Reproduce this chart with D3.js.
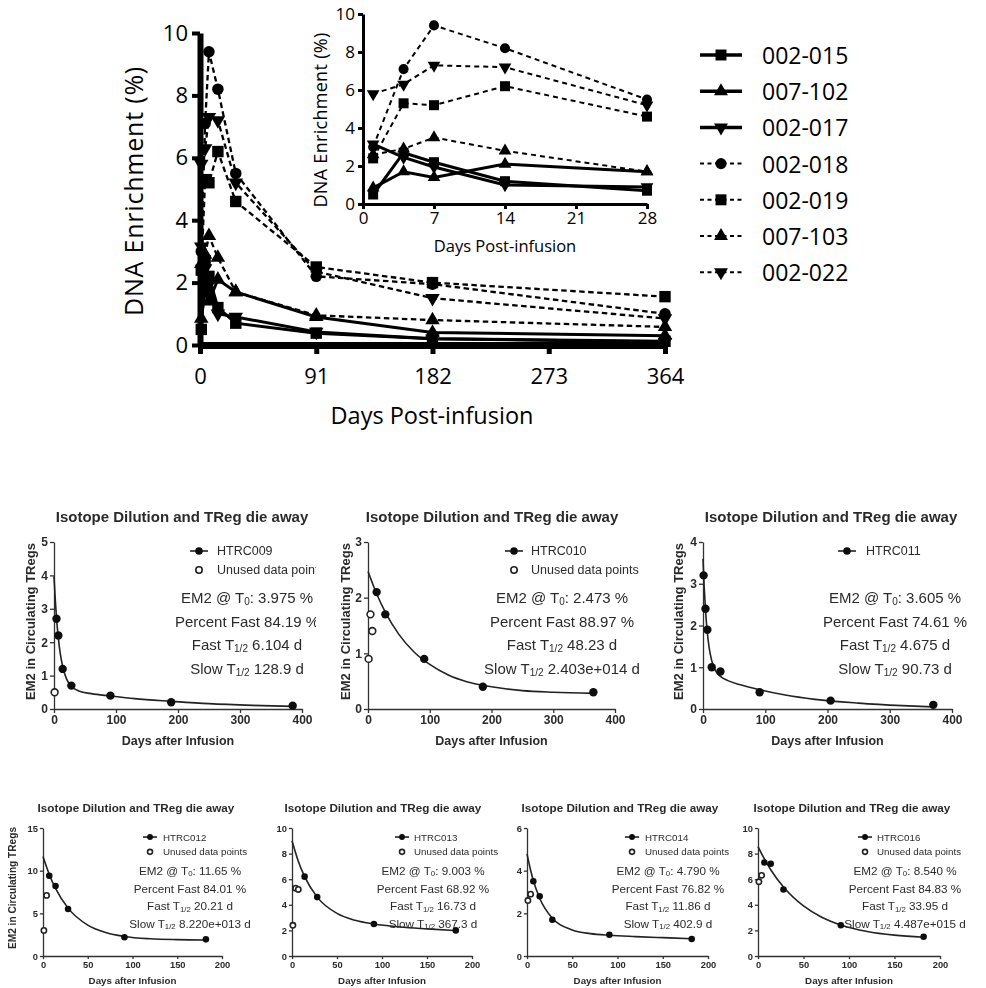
<!DOCTYPE html>
<html>
<head>
<meta charset="utf-8">
<script src="https://cdn.jsdelivr.net/npm/d3@7"></script>
<style>
  body { margin: 0; background: #fff; }
  svg { display: block; }
  .main text { font-family: "Open Sans", sans-serif; fill: #000; }
  .gp text { font-family: "Liberation Sans", Arial, sans-serif; fill: #2b2b2b; }
</style>
</head>
<body>
<div id="chart"></div>
<script>
// 1: DATA
const days = [1, 4, 7, 14, 28, 91, 182, 364];
const seriesNames = ["002-015", "007-102", "002-017", "002-018", "002-019", "007-103", "002-022"];
const v002015 = [0.5, 2.7, 2.2, 1.2, 0.7, 0.38, 0.2, 0.12];
const v007102 = [0.85, 1.7, 1.4, 2.1, 1.7, 0.9, 0.4, 0.3];
const v002017 = [3.15, 2.45, 1.95, 1.0, 0.9, 0.42, 0.2, 0.1];
const v002018 = [3.0, 7.1, 9.4, 8.2, 5.5, 2.2, 1.95, 1.0];
const v002019 = [2.4, 5.3, 5.2, 6.2, 4.6, 2.5, 2.0, 1.55];
const v007103 = [2.6, 2.9, 3.5, 2.8, 1.7, 0.95, 0.8, 0.58];
const v002022 = [5.8, 6.3, 7.3, 7.2, 5.2, 2.35, 1.5, 0.85];
const seriesValues = [v002015, v007102, v002017, v002018, v002019, v007103, v002022];
const mainXTicks = [0, 91, 182, 273, 364];
const mainYTicks = [0, 2, 4, 6, 8, 10];
const insetXTicks = [0, 7, 14, 21, 28];
const insetYTicks = [0, 2, 4, 6, 8, 10];

// fit panels: [day, value]
const fitNames = ["HTRC009", "HTRC010", "HTRC011", "HTRC012", "HTRC013", "HTRC014", "HTRC016"];
const em2T0 = ["3.975", "2.473", "3.605", "11.65", "9.003", "4.790", "8.540"];
const pctFast = ["84.19", "88.97", "74.61", "84.01", "68.92", "76.82", "84.83"];
const fastHalf = ["6.104", "48.23", "4.675", "20.21", "16.73", "11.86", "33.95"];
const slowHalf = ["128.9", "2.403e+014", "90.73", "8.220e+013", "367.3", "402.9", "4.487e+015"];
const fitYMax = [5, 3, 4, 15, 10, 6, 10];
const fitYStep = [1, 1, 1, 5, 2, 2, 2];
const fitXMax = [400, 400, 400, 200, 200, 200, 200];
const fitXStep = [100, 100, 100, 50, 50, 50, 50];

const htrc009Used = [[4, 2.7], [7, 2.2], [14, 1.2], [28, 0.7], [91, 0.4], [189, 0.2], [385, 0.1]];
const htrc009Unused = [[1, 0.5]];
const htrc009Fit = [[0, 3.97], [2, 3.29], [4, 2.74], [7, 2.12], [10, 1.67], [14, 1.27], [20, 0.91], [28, 0.68], [40, 0.54], [60, 0.46], [91, 0.39], [130, 0.31], [190, 0.23], [250, 0.16], [320, 0.11], [385, 0.08]];

const htrc010Used = [[14, 2.1], [28, 1.7], [91, 0.9], [186, 0.4], [365, 0.3]];
const htrc010Unused = [[1, 0.9], [4, 1.7], [7, 1.4]];
const htrc010Fit = [[0, 2.47], [14, 2.07], [28, 1.74], [50, 1.34], [75, 1.02], [100, 0.8], [130, 0.61], [160, 0.49], [200, 0.4], [250, 0.33], [300, 0.3], [365, 0.28]];

const htrc011Used = [[1, 3.2], [4, 2.4], [7, 1.9], [14, 1.0], [28, 0.9], [91, 0.4], [205, 0.2], [370, 0.1]];
const htrc011Unused = [];
const htrc011Fit = [[0, 3.6], [2, 2.9], [4, 2.37], [7, 1.82], [10, 1.46], [14, 1.16], [20, 0.92], [28, 0.78], [40, 0.68], [60, 0.58], [91, 0.46], [130, 0.34], [180, 0.23], [250, 0.14], [320, 0.08], [370, 0.05]];

const htrc012Used = [[7, 9.4], [14, 8.2], [28, 5.5], [91, 2.2], [182, 1.95]];
const htrc012Unused = [[1, 3.0], [4, 7.1]];
const htrc012Fit = [[0, 11.65], [7, 9.56], [14, 7.92], [28, 5.61], [50, 3.62], [70, 2.75], [91, 2.29], [120, 2.02], [150, 1.92], [182, 1.88]];

const htrc013Used = [[14, 6.2], [28, 4.6], [91, 2.5], [182, 2.0]];
const htrc013Unused = [[1, 2.4], [4, 5.3], [7, 5.2]];
const htrc013Fit = [[0, 9.0], [7, 7.4], [14, 6.2], [28, 4.6], [50, 3.33], [70, 2.79], [91, 2.5], [120, 2.27], [150, 2.12], [180, 1.99]];

const htrc014Used = [[7, 3.5], [14, 2.8], [28, 1.7], [91, 1.0], [182, 0.8]];
const htrc014Unused = [[1, 2.6], [4, 2.9]];
const htrc014Fit = [[0, 4.79], [4, 4.02], [7, 3.54], [14, 2.71], [28, 1.77], [50, 1.22], [70, 1.05], [91, 0.97], [120, 0.91], [150, 0.86], [182, 0.81]];

const htrc016Used = [[7, 7.3], [14, 7.2], [28, 5.2], [91, 2.4], [182, 1.5]];
const htrc016Unused = [[1, 5.8], [4, 6.3]];
const htrc016Fit = [[0, 8.54], [7, 7.58], [14, 6.74], [28, 5.39], [50, 3.91], [70, 3.03], [91, 2.43], [120, 1.92], [150, 1.63], [182, 1.47]];

const fitUsed = [htrc009Used, htrc010Used, htrc011Used, htrc012Used, htrc013Used, htrc014Used, htrc016Used];
const fitUnused = [htrc009Unused, htrc010Unused, htrc011Unused, htrc012Unused, htrc013Unused, htrc014Unused, htrc016Unused];
const fitCurves = [htrc009Fit, htrc010Fit, htrc011Fit, htrc012Fit, htrc013Fit, htrc014Fit, htrc016Fit];

// 2: STYLES PER SERIES
const symbolOf = ["square", "up", "down", "circle", "square", "up", "down"];
const dashedOf = [false, false, false, true, true, true, true];

const svg = d3.select("#chart").append("svg")
    .attr("width", 986)
    .attr("height", 988);

function symbolPath(kind, size) {
    if (kind === "square") return d3.symbol(d3.symbolSquare, size)();
    if (kind === "circle") return d3.symbol(d3.symbolCircle, size * 0.8)();
    return d3.symbol(d3.symbolTriangle, size * 0.7)();
}
function symbolTransform(kind, x, y) {
    return kind === "down" ? `translate(${x},${y}) rotate(180)` : `translate(${x},${y})`;
}

// 3: MAIN CHART
const main = svg.append("g").attr("class", "main");
const xMain = d3.scaleLinear().domain([0, 364]).range([200, 665]);
const yMain = d3.scaleLinear().domain([0, 10]).range([345, 33]);

function drawSeries(g, x, y, n, opts) {
    const line = d3.line().x(d => x(d[0])).y(d => y(d[1]));
    seriesNames.forEach((name, i) => {
        const pts = days.slice(0, n).map((d, j) => [d, seriesValues[i][j]]);
        g.append("path")
            .attr("d", line(pts))
            .attr("fill", "none")
            .attr("stroke", "#000")
            .attr("stroke-width", dashedOf[i] ? opts.dashW : opts.solidW)
            .attr("stroke-dasharray", dashedOf[i] ? opts.dash : null);
        g.selectAll(null).data(pts).enter().append("path")
            .attr("d", symbolPath(symbolOf[i], opts.size))
            .attr("transform", d => symbolTransform(symbolOf[i], x(d[0]), y(d[1])))
            .attr("fill", "#000");
    });
}

drawSeries(main, xMain, yMain, 8, { solidW: 3, dashW: 2.3, dash: "5.5,3.5", size: 130 });

const yAxisMain = main.append("g")
    .attr("transform", "translate(200,0)")
    .call(d3.axisLeft(yMain).tickValues(mainYTicks).tickSize(8).tickSizeOuter(0).tickPadding(4));
yAxisMain.select(".domain").attr("stroke-width", 6);
yAxisMain.selectAll(".tick line").attr("stroke-width", 4);
yAxisMain.selectAll("text").attr("font-size", 22).attr("font-family", "Open Sans");

const xAxisMain = main.append("g")
    .attr("transform", "translate(0,345)")
    .call(d3.axisBottom(xMain).tickValues(mainXTicks).tickSize(9).tickSizeOuter(0).tickPadding(14));
xAxisMain.select(".domain").attr("stroke-width", 7);
xAxisMain.selectAll(".tick line").attr("stroke-width", 5);
xAxisMain.selectAll("text").attr("font-size", 22).attr("font-family", "Open Sans");

main.append("text")
    .attr("transform", "translate(133,191) rotate(-90)")
    .attr("text-anchor", "middle")
    .attr("dominant-baseline", "central")
    .attr("font-size", 25)
    .attr("letter-spacing", 0.8)
    .text("DNA Enrichment (%)");

main.append("text")
    .attr("x", 432).attr("y", 415)
    .attr("text-anchor", "middle")
    .attr("dominant-baseline", "central")
    .attr("font-size", 23.5)
    .text("Days Post-infusion");

// inset
const xIn = d3.scaleLinear().domain([0, 28]).range([363, 647]);
const yIn = d3.scaleLinear().domain([0, 10]).range([204, 14]);
drawSeries(main, xIn, yIn, 5, { solidW: 3, dashW: 2, dash: "5,4", size: 100 });

const yAxisIn = main.append("g")
    .attr("transform", "translate(363,0)")
    .call(d3.axisLeft(yIn).tickValues(insetYTicks).tickSize(5).tickSizeOuter(0).tickPadding(3));
yAxisIn.select(".domain").attr("stroke-width", 3);
yAxisIn.selectAll(".tick line").attr("stroke-width", 3);
yAxisIn.selectAll("text").attr("font-size", 17).attr("font-family", "Open Sans");

const xAxisIn = main.append("g")
    .attr("transform", "translate(0,204)")
    .call(d3.axisBottom(xIn).tickValues(insetXTicks).tickSize(5).tickSizeOuter(0).tickPadding(3));
xAxisIn.select(".domain").attr("stroke-width", 3);
xAxisIn.selectAll(".tick line").attr("stroke-width", 3);
xAxisIn.selectAll("text").attr("font-size", 17).attr("font-family", "Open Sans");

main.append("text")
    .attr("transform", "translate(320,120) rotate(-90)")
    .attr("text-anchor", "middle")
    .attr("dominant-baseline", "central")
    .attr("font-size", 18)
    .attr("letter-spacing", 0.3)
    .text("DNA Enrichment (%)");

main.append("text")
    .attr("x", 505).attr("y", 245)
    .attr("text-anchor", "middle")
    .attr("dominant-baseline", "central")
    .attr("font-size", 16.5)
    .text("Days Post-infusion");

// legend
const legend = main.selectAll(".legend")
    .data(seriesNames)
    .enter().append("g")
    .attr("class", "legend")
    .attr("transform", (d, i) => `translate(700, ${55 + i * 36.2})`);
legend.append("line")
    .attr("x1", 0).attr("x2", 42)
    .attr("stroke", "#000")
    .attr("stroke-width", (d, i) => dashedOf[i] ? 2 : 3.5)
    .attr("stroke-dasharray", (d, i) => dashedOf[i] ? "4,3.5" : null);
legend.append("path")
    .attr("d", (d, i) => symbolPath(symbolOf[i], 120))
    .attr("transform", (d, i) => symbolTransform(symbolOf[i], 21, 0))
    .attr("fill", "#000");
legend.append("text")
    .attr("x", 62)
    .attr("dominant-baseline", "central")
    .attr("font-size", 23)
    .text(d => d);

// 4: FIT PANELS
const panelLayout = [
    { left: 54, right: 302, top: 542, bottom: 709, title: 182, mk: 190, legText: 217, stat: 247, ylab: 30, clip: 316, big: true },
    { left: 368, right: 615, top: 542, bottom: 709, title: 492, mk: 505, legText: 531, stat: 562, ylab: 345, clip: 647, big: true },
    { left: 703, right: 952, top: 542, bottom: 709, title: 831, mk: 838, legText: 866, stat: 895, ylab: 678, clip: 986, big: true },
    { left: 43, right: 222, top: 828, bottom: 956, title: 136, mk: 143, legText: 163, stat: 190, ylab: 12, clip: 986, big: false },
    { left: 292, right: 472, top: 828, bottom: 956, title: 383, mk: 395, legText: 414, stat: 433, ylab: null, clip: 986, big: false },
    { left: 527, right: 708, top: 828, bottom: 956, title: 620, mk: 625, legText: 645, stat: 668, ylab: null, clip: 986, big: false },
    { left: 758, right: 940, top: 828, bottom: 956, title: 852, mk: 858, legText: 877, stat: 905, ylab: null, clip: 986, big: false }
];

const defs = svg.append("defs");
defs.append("filter").attr("id", "soft")
    .append("feGaussianBlur").attr("stdDeviation", 0.45);

fitNames.forEach((name, i) => {
    const L = panelLayout[i];
    const s = L.big ? 1 : 0.78;
    defs.append("clipPath").attr("id", "clip" + i)
        .append("rect").attr("x", 0).attr("y", 480).attr("width", L.clip).attr("height", 510);
    const g = svg.append("g").attr("class", "gp")
        .attr("clip-path", `url(#clip${i})`)
        .attr("filter", "url(#soft)");

    const x = d3.scaleLinear().domain([0, fitXMax[i]]).range([L.left, L.right]);
    const y = d3.scaleLinear().domain([0, fitYMax[i]]).range([L.bottom, L.top]);

    const xAxis = g.append("g")
        .attr("transform", `translate(0,${L.bottom})`)
        .call(d3.axisBottom(x).ticks(fitXMax[i] / fitXStep[i]).tickSize(4 * s).tickSizeOuter(0).tickPadding(2));
    const yAxis = g.append("g")
        .attr("transform", `translate(${L.left},0)`)
        .call(d3.axisLeft(y).ticks(fitYMax[i] / fitYStep[i]).tickSize(4 * s).tickSizeOuter(0).tickPadding(2));
    [xAxis, yAxis].forEach(a => {
        a.selectAll(".domain, .tick line").attr("stroke", "#333").attr("stroke-width", 1.3);
        a.selectAll("text").attr("font-size", 12 * s).attr("font-weight", "bold")
            .attr("font-family", "Liberation Sans, Arial").attr("fill", "#2b2b2b");
    });

    g.append("text")
        .attr("x", L.title).attr("y", L.top - 20 * s)
        .attr("text-anchor", "middle")
        .attr("font-size", 15 * s)
        .attr("font-weight", "bold")
        .text("Isotope Dilution and TReg die away");

    g.append("text")
        .attr("x", (L.left + L.right) / 2).attr("y", L.bottom + 36 * s)
        .attr("text-anchor", "middle")
        .attr("font-size", 12.5 * s)
        .attr("font-weight", "bold")
        .text("Days after Infusion");

    if (L.ylab !== null) {
        g.append("text")
            .attr("transform", `translate(${L.ylab},${(L.top + L.bottom) / 2 - 4}) rotate(-90)`)
            .attr("text-anchor", "middle")
            .attr("dominant-baseline", "central")
            .attr("font-size", 13 * s)
            .attr("font-weight", "bold")
            .text("EM2 in Circulating TRegs");
    }

    // fit line
    g.append("path")
        .attr("d", d3.line().x(d => x(d[0])).y(d => y(d[1])).curve(d3.curveMonotoneX)(fitCurves[i]))
        .attr("fill", "none")
        .attr("stroke", "#222")
        .attr("stroke-width", 1.6);

    g.selectAll(null).data(fitUsed[i]).enter().append("circle")
        .attr("cx", d => x(d[0])).attr("cy", d => y(d[1]))
        .attr("r", 4.2 * s).attr("fill", "#111");
    g.selectAll(null).data(fitUnused[i]).enter().append("circle")
        .attr("cx", d => x(d[0])).attr("cy", d => y(d[1]))
        .attr("r", 3.4 * s).attr("fill", "#fff").attr("stroke", "#222").attr("stroke-width", 1.6);

    // legend
    const row1 = L.top + 9 * s + (L.big ? 0 : 2);
    const rowGap = 19 * s;
    g.append("line")
        .attr("x1", L.mk).attr("x2", L.mk + 18 * s)
        .attr("y1", row1).attr("y2", row1)
        .attr("stroke", "#222").attr("stroke-width", 1.6);
    g.append("circle").attr("cx", L.mk + 9 * s).attr("cy", row1).attr("r", 3.8 * s).attr("fill", "#111");
    g.append("text")
        .attr("x", L.legText).attr("y", row1)
        .attr("dominant-baseline", "central")
        .attr("font-size", 12.5 * s)
        .attr("fill", "#444")
        .text(name);
    if (fitUnused[i].length) {
        g.append("circle").attr("cx", L.mk + 9 * s).attr("cy", row1 + rowGap).attr("r", 3.2 * s)
            .attr("fill", "#fff").attr("stroke", "#222").attr("stroke-width", 1.6);
        g.append("text")
            .attr("x", L.legText).attr("y", row1 + rowGap)
            .attr("dominant-baseline", "central")
            .attr("font-size", 12.5 * s)
            .attr("fill", "#444")
            .text("Unused data points");
    }

    // fit results
    const statLines = [
        ["EM2 @ T", "0", ": " + em2T0[i] + " %"],
        ["Percent Fast " + pctFast[i] + " %"],
        ["Fast T", "1/2", " " + fastHalf[i] + " d"],
        ["Slow T", "1/2", " " + slowHalf[i] + " d"]
    ];
    const stat0 = L.big ? L.top + 55 : L.top + 42;
    const statGap = L.big ? 23.5 : 17.7;
    statLines.forEach((parts, k) => {
        const t = g.append("text")
            .attr("x", L.stat).attr("y", stat0 + k * statGap)
            .attr("text-anchor", "middle")
            .attr("dominant-baseline", "central")
            .attr("font-size", 15 * s);
        parts.forEach((p, j) => {
            const sp = t.append("tspan").text(p);
            if (j === 1) sp.attr("font-size", 10 * s).attr("dy", 4 * s);
            if (j === 2) sp.attr("dy", -4 * s);
        });
    });
});
</script>
</body>
</html>
